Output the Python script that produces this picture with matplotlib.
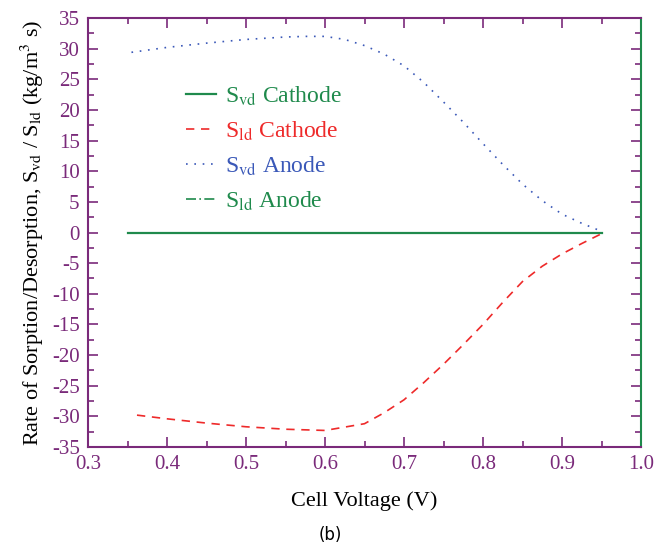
import matplotlib
matplotlib.use("Agg")
import matplotlib.pyplot as plt
from matplotlib.ticker import MultipleLocator

plt.rcParams['font.family'] = ['Liberation Serif', 'DejaVu Serif']
plt.rcParams['mathtext.fontset'] = 'stix'

# Data
x_zero = [0.35, 0.95]
svd_cathode = [0.0, 0.0]
sld_anode = [0.0, 0.0]

x_svd_anode = [0.355, 0.40, 0.45, 0.50, 0.55, 0.575, 0.60, 0.625, 0.65, 0.675, 0.70, 0.725,
               0.75, 0.775, 0.80, 0.825, 0.85, 0.875, 0.90, 0.925, 0.95]
svd_anode = [29.4, 30.2, 30.9, 31.5, 31.9, 32.0, 32.0, 31.5, 30.5, 29.1, 27.2, 24.5,
             21.3, 18.0, 14.5, 11.1, 7.9, 5.2, 3.0, 1.5, 0.2]

x_sld_cathode = [0.362, 0.40, 0.45, 0.50, 0.55, 0.60, 0.65, 0.675, 0.70, 0.725, 0.75, 0.775,
                 0.80, 0.825, 0.85, 0.875, 0.90, 0.925, 0.95]
sld_cathode = [-29.8, -30.4, -31.1, -31.7, -32.1, -32.3, -31.2, -29.4, -27.3, -24.5, -21.5, -18.3,
               -15.0, -11.4, -8.0, -5.5, -3.5, -1.8, -0.2]

xticks = [0.3, 0.4, 0.5, 0.6, 0.7, 0.8, 0.9, 1.0]
yticks = list(range(-35, 36, 5))

purple = '#7a2a7a'
green = '#1f8a4c'
red = '#ee2a2a'
blue = '#3a58b8'

fig = plt.figure(figsize=(6.68, 5.48), dpi=100)
ax = fig.add_axes([88/668, 1-447/548, (641-88)/668, (447-18)/548])

ax.plot(x_zero, svd_cathode, color=green, lw=1.6, ls='-', label=r'S$_{\rm vd}$ Cathode')
ax.plot(x_sld_cathode, sld_cathode, color=red, lw=1.2, ls=(0, (5, 4)), label=r'S$_{\rm ld}$ Cathode')
ax.plot(x_svd_anode, svd_anode, color=blue, lw=1.2, ls=(0, (1, 4)), label=r'S$_{\rm vd}$ Anode')
ax.plot(x_zero, sld_anode, color=green, lw=1.2, ls=(0, (6, 2, 1, 2)), label=r'S$_{\rm ld}$ Anode')

ax.set_xlim(0.3, 1.0)
ax.set_ylim(-35, 35)
ax.set_xticks(xticks)
ax.set_xticklabels([f'{v:.1f}' for v in xticks])
ax.set_yticks(yticks)
ax.set_yticklabels([str(v) for v in yticks])
ax.xaxis.set_minor_locator(MultipleLocator(0.05))
ax.yaxis.set_minor_locator(MultipleLocator(2.5))
ax.tick_params(which='both', direction='in', top=True, right=True, colors=purple,
               labelsize=15, width=1.2)
ax.tick_params(which='major', length=7, pad=6)
ax.tick_params(which='minor', length=4)
for s in ['left', 'bottom', 'top']:
    ax.spines[s].set_color(purple)
    ax.spines[s].set_linewidth(1.5)
ax.spines['right'].set_color(green)
ax.spines['right'].set_linewidth(1.5)

ax.set_xlabel('Cell Voltage (V)', fontsize=16, color='black', labelpad=12)
ax.set_ylabel(r'Rate of Sorption/Desorption, S$_{\rm vd}$ / S$_{\rm ld}$ (kg/m$^3$ s)',
              fontsize=16, color='black', labelpad=4)

leg = ax.legend(loc='upper left', bbox_to_anchor=(0.138, 0.895), frameon=False,
                fontsize=17, handlelength=1.3, handletextpad=0.35, labelspacing=0.5)
for txt, c in zip(leg.get_texts(), [green, red, blue, green]):
    txt.set_color(c)

fig.text(330/668, 1-535/548, '(b)', fontsize=12, family='DejaVu Sans', ha='center', va='center')

fig.savefig('out.png', dpi=100)
